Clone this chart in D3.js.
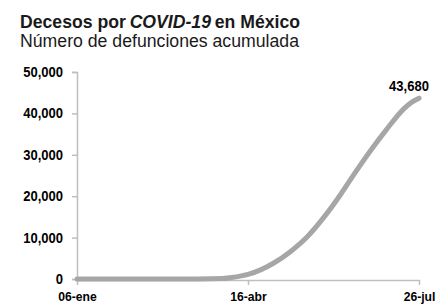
<!DOCTYPE html>
<html>
<head>
<meta charset="utf-8">
<script src="https://cdn.jsdelivr.net/npm/d3@7"></script>
<style>
  body { margin: 0; background: #fff; }
  svg { display: block; font-family: "Liberation Sans", Arial, sans-serif; }
</style>
</head>
<body>
<svg id="chart" width="448" height="304"></svg>
<script>
// cumulative deaths
var dates = ["2020-01-06", "2020-03-18", "2020-04-01", "2020-04-08", "2020-04-16", "2020-05-01",
             "2020-05-11", "2020-05-21", "2020-05-31", "2020-06-10", "2020-06-17", "2020-06-27",
             "2020-07-07", "2020-07-17", "2020-07-22", "2020-07-26"];
var deaths = [0, 0, 100, 450, 1100, 3800, 6600, 10200, 15000, 20600, 24900, 30800, 36200, 41100, 42800, 43680];

var yTicks = [0, 10000, 20000, 30000, 40000, 50000];
var xTicks = ["2020-01-06", "2020-04-16", "2020-07-26"];
var xTickLabels = ["06-ene", "16-abr", "26-jul"];

var titleParts = ["Decesos por", "COVID-19", "en México"];

var parse = d3.timeParse("%Y-%m-%d");
var data = dates.map((d, i) => ({ date: parse(d), value: deaths[i] }));

var svg = d3.select("#chart");

// no narrow font installed, so squeeze the glyphs
function condense(sel, k) {
    sel.each(function () {
        var w = this.getComputedTextLength();
        d3.select(this)
            .attr("textLength", w * k)
            .attr("lengthAdjust", "spacingAndGlyphs");
    });
}

var x = d3.scaleTime()
    .domain([parse(dates[0]), parse(dates[dates.length - 1])])
    .range([77, 419]);

var y = d3.scaleLinear()
    .domain([0, 50000])
    .range([279, 72]);

// title, one text per part so the italic word can sit between
var titleSize = 19, titleWidth = 280;
var parts = titleParts.map((t, i) => svg.append("text")
    .attr("y", 28)
    .attr("font-size", titleSize)
    .attr("font-weight", "bold")
    .attr("font-style", i == 1 ? "italic" : null)
    .attr("fill", "#1a1a1a")
    .text(t));
var widths = parts.map(p => p.node().getComputedTextLength());
var gap = titleSize * 0.2;
var k = (titleWidth - 2 * gap) / d3.sum(widths);
var cx = 20;
parts.forEach((p, i) => {
    p.attr("x", cx)
        .attr("textLength", widths[i] * k)
        .attr("lengthAdjust", "spacingAndGlyphs");
    cx += widths[i] * k + gap;
});

svg.append("text")
    .attr("x", 20)
    .attr("y", 47)
    .attr("font-size", 17.5)
    .attr("fill", "#1a1a1a")
    .attr("textLength", 279)
    .attr("lengthAdjust", "spacingAndGlyphs")
    .text("Número de defunciones acumulada");

// y axis
var yAxis = svg.append("g")
    .attr("transform", "translate(77,0)")
    .call(d3.axisLeft(y).tickValues(yTicks).tickSize(5).tickPadding(9).tickFormat(d3.format(",")));
yAxis.select(".domain").attr("stroke", "#bfbfbf").attr("stroke-width", 1.5);
yAxis.selectAll(".tick line").attr("stroke", "#bfbfbf").attr("stroke-width", 1.5);
yAxis.selectAll(".tick text")
    .attr("font-size", 14)
    .attr("font-weight", "bold")
    .attr("fill", "#000")
    .call(condense, 0.93);

// x axis
var xAxis = svg.append("g")
    .attr("transform", "translate(0,280)")
    .call(d3.axisBottom(x)
        .tickValues(xTicks.map(parse))
        .tickSize(5)
        .tickSizeOuter(0)
        .tickPadding(6)
        .tickFormat((d, i) => xTickLabels[i]));
xAxis.select(".domain").attr("stroke", "#bfbfbf").attr("stroke-width", 1.5);
xAxis.selectAll(".tick line").attr("stroke", "#bfbfbf").attr("stroke-width", 1.5);
xAxis.selectAll(".tick text")
    .attr("font-size", 13.5)
    .attr("font-weight", "bold")
    .attr("fill", "#000")
    .call(condense, 0.9);

// line
var line = d3.line()
    .x(d => x(d.date))
    .y(d => y(d.value))
    .curve(d3.curveMonotoneX);

svg.append("path")
    .datum(data)
    .attr("fill", "none")
    .attr("stroke", "#a6a6a6")
    .attr("stroke-width", 5)
    .attr("stroke-linecap", "round")
    .attr("stroke-linejoin", "round")
    .attr("d", line);

// last value label
var last = data[data.length - 1];
svg.append("text")
    .attr("x", x(last.date) - 10)
    .attr("y", y(last.value) - 7)
    .attr("text-anchor", "middle")
    .attr("font-size", 14)
    .attr("font-weight", "bold")
    .attr("fill", "#000")
    .text(d3.format(",")(last.value))
    .call(condense, 0.93);
</script>
</body>
</html>
